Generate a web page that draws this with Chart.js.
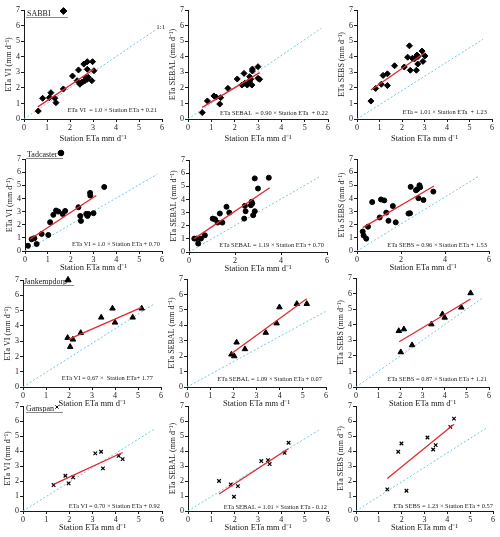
<!DOCTYPE html>
<html>
<head>
<meta charset="utf-8">
<script src="https://cdn.jsdelivr.net/npm/chart.js@4.4.0/dist/chart.umd.min.js"></script>
<style>
html, body { margin: 0; padding: 0; background: #fff; }
#wrap { position: relative; width: 500px; height: 537px; overflow: hidden; }
#wrap canvas { position: absolute; }
</style>
</head>
<body>
<div id="wrap"></div>
<script>
// ---- data: [station ETa, modelled ETa] ----
var sabbiVI = [[0.62,0.51],[0.81,1.33],[1.10,1.37],[1.17,1.69],[1.34,1.33],[1.39,1.05],[1.71,1.93],[2.11,2.76],[2.31,2.46],[2.37,3.15],[2.43,2.23],[2.50,2.33],[2.54,2.38],[2.60,3.53],[2.65,2.46],[2.69,2.66],[2.75,3.68],[2.75,3.19],[2.75,2.55],[2.79,2.68],[2.95,2.46],[2.98,3.68],[3.04,3.10]];
var sabbiSEBAL = [[0.61,0.41],[0.83,1.16],[1.11,1.48],[1.21,1.41],[1.36,0.96],[1.40,1.37],[1.71,1.97],[2.11,2.57],[2.31,2.18],[2.40,2.93],[2.43,2.29],[2.54,2.18],[2.64,2.44],[2.64,2.72],[2.69,2.55],[2.74,2.18],[2.76,3.21],[2.76,3.08],[3.00,2.61],[3.00,3.36],[3.07,2.55]];
var sabbiSEBS = [[0.62,1.15],[0.83,1.96],[1.08,2.23],[1.16,2.80],[1.35,2.90],[1.35,2.15],[1.67,3.42],[2.10,3.34],[2.25,3.97],[2.33,4.70],[2.37,3.13],[2.46,3.90],[2.55,3.86],[2.61,3.97],[2.64,3.13],[2.67,4.11],[2.70,3.53],[2.71,4.01],[2.89,4.36],[2.93,3.70],[3.02,4.05]];

var tadVI = [[0.13,0.40],[0.29,0.89],[0.41,0.97],[0.51,0.53],[0.73,1.30],[1.02,1.22],[1.10,2.19],[1.24,2.75],[1.36,3.08],[1.46,3.00],[1.65,2.82],[1.76,3.05],[2.34,3.33],[2.42,2.67],[2.45,2.29],[2.68,2.82],[2.74,2.67],[2.78,2.82],[2.85,4.42],[2.86,4.22],[3.00,2.88],[3.47,4.87]];
var tadSEBAL = [[0.23,1.02],[0.33,1.02],[0.40,0.64],[0.52,1.02],[0.69,1.27],[1.03,2.54],[1.13,2.49],[1.24,2.24],[1.34,2.93],[1.45,2.24],[1.63,3.44],[1.75,3.00],[2.40,2.54],[2.43,3.51],[2.46,3.10],[2.69,3.56],[2.72,3.82],[2.75,3.69],[2.79,2.80],[2.86,5.60],[2.86,3.10],[3.00,4.83],[3.47,5.65]];
var tadSEBS = [[0.26,1.48],[0.30,1.18],[0.42,0.94],[0.50,1.85],[0.69,3.72],[1.03,2.55],[1.09,3.92],[1.24,3.85],[1.33,2.92],[1.43,2.30],[1.63,3.42],[1.76,2.18],[2.34,2.85],[2.41,2.87],[2.44,4.88],[2.68,4.62],[2.74,4.70],[2.79,4.02],[2.84,5.00],[2.87,4.85],[3.02,3.88],[3.47,4.52]];

var janVI = [[1.94,3.22],[2.05,2.63],[2.17,3.11],[2.51,3.54],[3.40,4.55],[3.89,5.14],[4.00,4.22],[4.77,4.55],[5.16,5.14]];
var janSEBAL = [[1.92,2.11],[2.04,2.00],[2.14,2.89],[2.50,2.46],[3.40,3.52],[3.87,4.13],[3.99,5.17],[4.74,5.39],[5.17,5.39]];
var janSEBS = [[1.93,3.60],[2.16,3.71],[2.02,2.24],[2.53,2.69],[3.40,4.03],[3.90,4.68],[4.00,4.46],[4.75,5.11],[5.17,6.03]];

var ganVI = [[1.32,1.73],[1.83,2.35],[1.97,1.84],[2.16,2.24],[3.12,3.84],[3.37,3.95],[3.45,2.84],[4.13,3.68],[4.30,3.46]];
var ganSEBAL = [[1.33,2.00],[1.83,1.77],[1.97,0.95],[2.14,1.66],[3.14,3.33],[3.43,3.39],[3.50,3.13],[4.14,3.88],[4.31,4.55]];
var ganSEBS = [[1.37,1.44],[1.85,3.95],[1.99,4.50],[2.21,1.35],[3.13,4.90],[3.38,4.10],[3.49,4.39],[4.13,5.61],[4.29,6.16]];

// regression line ends (VI, SEBAL, SEBS) per site
var sabbiFit = [[[0.60,0.78],[3.04,3.19]], [[0.61,0.75],[3.07,2.98]], [[0.62,1.86],[3.01,4.26]]];
var tadFit   = [[[0.22,0.89],[3.12,4.22]], [[0.23,1.02],[3.51,4.89]], [[0.26,1.78],[3.50,4.95]]];
var janFit   = [[[1.98,3.12],[5.16,5.21]], [[1.92,2.17],[5.17,5.72]], [[1.95,2.91],[5.17,5.65]]];
var ganFit   = [[[1.32,1.77],[4.30,3.90]], [[1.33,1.13],[4.31,4.17]], [[1.37,2.17],[4.29,5.79]]];

// far end of the dotted "1:1" line (it starts at 0,0)
var sabbiDiag = [[5.75,5.75],[5.71,5.82],[5.60,5.12]];
var tadDiag   = [[5.80,5.85],[5.68,5.73],[5.50,5.65]];
var janDiag   = [[5.74,5.47],[5.97,4.89],[5.70,5.71]];
var ganDiag   = [[5.64,5.43],[5.60,5.39],[5.68,5.50]];

var sites = ['SABBI', 'Tadcaster', 'Jankempdorp', 'Ganspan'];
var yTitles = ['ETa VI (mm d\u207B\u00B9)', 'ETa SEBAL (mm d\u207B\u00B9)', 'ETa SEBS (mm d\u207B\u00B9)'];
var xTitle = 'Station ETa mm d\u207B\u00B9';
var xSteps = [[1,1,1],[1,2,2],[1,1,1],[1,1,1]];
var equations = [
  ['ETa VI  = 1.0 \u00D7 Station ETa + 0.21', 'ETa SEBAL  = 0.90 \u00D7 Station ETa  + 0.22', 'ETa = 1.01 \u00D7 Station ETa  + 1.23'],
  ['ETa VI = 1.0 \u00D7 Station ETa + 0.70', 'ETa SEBAL = 1.19 \u00D7 Station ETa + 0.70', 'ETa SEBS = 0.96 \u00D7 Station ETa + 1.53'],
  ['ETa VI = 0.67 \u00D7  Station ETa+ 1.77', 'ETa SEBAL = 1.09 \u00D7 Station ETa + 0.07', 'ETa SEBS = 0.87 \u00D7 Station ETa + 1.21'],
  ['ETa VI = 0.70 \u00D7 Station ETa + 0.92', 'ETa SEBAL = 1.01 \u00D7 Station ETa - 0.12', 'ETa SEBS = 1.23 \u00D7 Station ETa + 0.57']
];

var points = [[sabbiVI, sabbiSEBAL, sabbiSEBS], [tadVI, tadSEBAL, tadSEBS], [janVI, janSEBAL, janSEBS], [ganVI, ganSEBAL, ganSEBS]];
var fits = [sabbiFit, tadFit, janFit, ganFit];
var diags = [sabbiDiag, tadDiag, janDiag, ganDiag];

// ---- layout / style ----
var markers = ['rectRot', 'circle', 'triangle', 'crossRot'];
var markerSize = [3, 2.5, 3.2, 2.5];
// plot area [left, top, right, bottom] in page pixels
var boxes = [
  [[24,10,162,119],[188,10,328,119],[357,10,492,119]],
  [[25,159,162,251],[189,160,327,252],[357,159,489,251]],
  [[23,280,161,387],[187,279,326,387],[356,278,489,387]],
  [[23,406,162,511],[188,406,328,511],[356,406,493,511]]
];
// equation offset from right / bottom of plot
var eqPos = [[[5,7],[0,4],[5,5]], [[2,5],[3,5],[2,4]], [[8,7],[4,6],[2,6]], [[2,3],[1,2],[0,3]]];
// site tag: text x, baseline, underline from/to/at, marker x,y,r (relative to plot top-left)
var tags = [
  {tx:3, ty:5.5, u0:2, u1:44, uy:6.5, mx:39.5, my:1, r:3.4},
  {tx:2, ty:-2.5, u0:1, u1:38, uy:-1.5, mx:36, my:-6, r:2.8},
  {tx:1, ty:3.5, u0:1, u1:51, uy:5, mx:45, my:0, r:3.6},
  {tx:3, ty:4.5, u0:3, u1:40, uy:6, mx:34, my:1, r:2.3}
];
var padB = [25, 22, 22, 22];
var padL = 20, padR = 12, padT = 12;

var RED = '#e2282d';
var BLUE = '#74c8dc';
var INK = '#1a1a1a';

Chart.defaults.font.family = '"Liberation Serif", "Times New Roman", serif';
Chart.defaults.font.size = 8;
Chart.defaults.color = INK;

// equation, site tag and "1:1" text
var notes = {
  id: 'notes',
  afterDatasetsDraw: function (chart, args, o) {
    var ctx = chart.ctx, a = chart.chartArea;
    ctx.save();
    ctx.fillStyle = INK;
    ctx.textBaseline = 'alphabetic';
    ctx.font = '6.4px "Liberation Serif"';
    ctx.textAlign = 'right';
    ctx.fillText(o.eq, a.right - o.eqDx, a.bottom - o.eqDy);
    if (o.oneToOne) {
      var xs = chart.scales.x, ys = chart.scales.y;
      ctx.textAlign = 'left';
      ctx.font = '7px "Liberation Serif"';
      ctx.fillText('1:1', xs.getPixelForValue(o.oneToOne[0]), ys.getPixelForValue(o.oneToOne[1]));
    }
    if (o.tag) {
      var t = o.tag;
      ctx.textAlign = 'left';
      ctx.font = '8px "Liberation Serif"';
      ctx.fillText(o.site, a.left + t.tx, a.top + t.ty);
      ctx.strokeStyle = '#8a8a8a';
      ctx.lineWidth = 1;
      ctx.beginPath();
      ctx.moveTo(a.left + t.u0, Math.round(a.top + t.uy) + 0.5);
      ctx.lineTo(a.left + t.u1, Math.round(a.top + t.uy) + 0.5);
      ctx.stroke();
      ctx.fillStyle = '#000';
      ctx.strokeStyle = '#000';
      Chart.helpers.drawPoint(ctx, {pointStyle: o.marker, radius: t.r, borderWidth: 1.2, rotation: 0},
        a.left + t.mx, a.top + t.my);
    }
    ctx.restore();
  }
};

function xy(list) {
  return list.map(function (p) { return {x: p[0], y: p[1]}; });
}

var wrap = document.getElementById('wrap');

for (var r = 0; r < 4; r++) {
  for (var c = 0; c < 3; c++) {
    var b = boxes[r][c];
    var cv = document.createElement('canvas');
    var w = (b[2] - b[0]) + padL + padR;
    var h = (b[3] - b[1]) + padT + padB[r];
    cv.width = w; cv.height = h;
    cv.style.left = (b[0] - padL) + 'px';
    cv.style.top = (b[1] - padT) + 'px';
    cv.style.width = w + 'px';
    cv.style.height = h + 'px';
    wrap.appendChild(cv);

    var d = diags[r][c];
    var bottomPad = padB[r];
    new Chart(cv, {
      type: 'scatter',
      data: {
        datasets: [
          { data: xy(fits[r][c]), showLine: true, borderColor: RED, borderWidth: 1.3, pointRadius: 0 },
          { data: xy(points[r][c]), pointStyle: markers[r], pointRadius: markerSize[r],
            backgroundColor: '#000', borderColor: '#000', borderWidth: r === 3 ? 1.2 : 1 },
          { data: [{x: 0, y: 0}, {x: d[0], y: d[1]}], showLine: true, borderColor: BLUE,
            borderWidth: 1, borderDash: [2, 2], pointRadius: 0 }
        ]
      },
      options: {
        responsive: false,
        animation: false,
        devicePixelRatio: 1,
        layout: { padding: { left: 0, top: padT, right: padR, bottom: 0 } },
        plugins: {
          legend: { display: false },
          tooltip: { enabled: false },
          notes: {
            eq: equations[r][c], eqDx: eqPos[r][c][0], eqDy: eqPos[r][c][1],
            oneToOne: (r === 0 && c === 0) ? d : null,
            tag: c === 0 ? tags[r] : null, site: sites[r], marker: markers[r]
          }
        },
        scales: {
          x: {
            type: 'linear', min: 0, max: 6,
            ticks: { stepSize: xSteps[r][c], padding: 1, maxRotation: 0, color: INK },
            grid: { drawOnChartArea: false, drawTicks: true, tickLength: 3, color: INK },
            border: { display: true, color: INK, width: 1 },
            title: { display: true, text: xTitle, padding: 0, font: { size: 8.5 }, color: INK },
            afterFit: (function (hh) { return function (s) { s.height = hh; }; })(bottomPad)
          },
          y: {
            type: 'linear', min: 0, max: 7,
            ticks: { stepSize: 1, padding: 1, color: INK },
            grid: { drawOnChartArea: false, drawTicks: true, tickLength: 3, color: INK },
            border: { display: true, color: INK, width: 1 },
            title: { display: true, text: yTitles[c], padding: 0, font: { size: 8 }, color: INK },
            afterFit: function (s) { s.width = padL; }
          }
        }
      },
      plugins: [notes]
    });
  }
}
</script>
</body>
</html>
